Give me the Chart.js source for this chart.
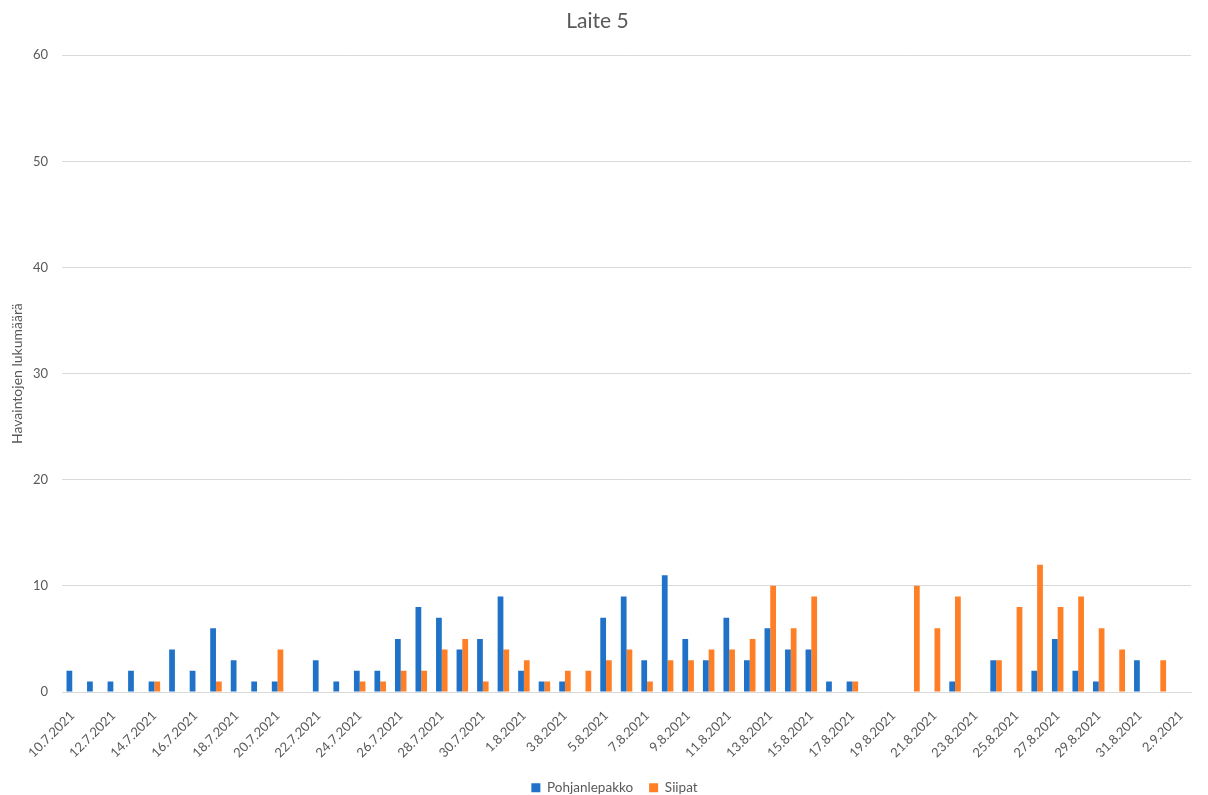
<!DOCTYPE html>
<html>
<head>
<meta charset="utf-8">
<script src="https://cdn.jsdelivr.net/npm/chart.js@4/dist/chart.umd.min.js"></script>
<style>
  html, body { margin: 0; padding: 0; background: #ffffff; }
  #wrap { width: 1208px; height: 795px; position: relative; }
</style>
</head>
<body>
<div id="wrap"><canvas id="c"></canvas></div>
<script>
const categories = [
  "10.7.2021","11.7.2021","12.7.2021","13.7.2021","14.7.2021","15.7.2021","16.7.2021","17.7.2021","18.7.2021","19.7.2021",
  "20.7.2021","21.7.2021","22.7.2021","23.7.2021","24.7.2021","25.7.2021","26.7.2021","27.7.2021","28.7.2021","29.7.2021",
  "30.7.2021","31.7.2021","1.8.2021","2.8.2021","3.8.2021","4.8.2021","5.8.2021","6.8.2021","7.8.2021","8.8.2021",
  "9.8.2021","10.8.2021","11.8.2021","12.8.2021","13.8.2021","14.8.2021","15.8.2021","16.8.2021","17.8.2021","18.8.2021",
  "19.8.2021","20.8.2021","21.8.2021","22.8.2021","23.8.2021","24.8.2021","25.8.2021","26.8.2021","27.8.2021","28.8.2021",
  "29.8.2021","30.8.2021","31.8.2021","1.9.2021","2.9.2021"
];
const pohjanlepakko = [
  2,1,1,2,1,4,2,6,3,1,
  1,0,3,1,2,2,5,8,7,4,
  5,9,2,1,1,0,7,9,3,11,
  5,3,7,3,6,4,4,1,1,0,
  0,0,0,1,0,3,0,2,5,2,
  1,0,3,0,0
];
const siipat = [
  0,0,0,0,1,0,0,1,0,0,
  4,0,0,0,1,1,2,2,4,5,
  1,4,3,1,2,2,3,4,1,3,
  3,4,4,5,10,6,9,0,1,0,
  0,10,6,9,0,3,8,12,8,9,
  6,4,0,3,0
];
const yTicks = [0,10,20,30,40,50,60];

const textColor = '#595959';
const fontFamily = 'Lato, "Liberation Sans", sans-serif';

const legendShift = {
  id: 'legendShift',
  afterLayout(chart) {
    const lg = chart.legend;
    if (lg) { lg.left += 17; lg.right += 17; }
  }
};

new Chart(document.getElementById('c'), {
  type: 'bar',
  data: {
    labels: categories,
    datasets: [
      { label: 'Pohjanlepakko', data: pohjanlepakko, backgroundColor: '#1f72c8', borderWidth: 0,
        categoryPercentage: 0.56, barPercentage: 1.0 },
      { label: 'Siipat', data: siipat, backgroundColor: '#ff7f27', borderWidth: 0,
        categoryPercentage: 0.56, barPercentage: 1.0 }
    ]
  },
  plugins: [legendShift],
  options: {
    responsive: true,
    maintainAspectRatio: false,
    animation: false,
    layout: { padding: { left: 0, right: 13, top: 0, bottom: 0 } },
    plugins: {
      title: {
        display: true, text: 'Laite 5', color: textColor,
        font: { family: fontFamily, size: 21, weight: 'normal' },
        padding: { top: 9, bottom: 21 }
      },
      legend: {
        position: 'bottom',
        maxHeight: 30,
        labels: {
          color: textColor, boxWidth: 9, boxHeight: 9, padding: 16,
          font: { family: fontFamily, size: 13.5 }
        }
      },
      tooltip: { enabled: false }
    },
    scales: {
      x: {
        grid: { display: false, drawTicks: false },
        border: { display: true, color: '#d9d9d9', width: 1 },
        afterFit: (axis) => { axis.height = 73; },
        ticks: {
          autoSkip: false, maxRotation: 45, minRotation: 45,
          color: textColor, padding: 16,
          font: { family: fontFamily, size: 13 },
          callback: function (val, idx) { return idx % 2 === 0 ? categories[idx] : ''; }
        }
      },
      y: {
        min: yTicks[0], max: yTicks[yTicks.length - 1],
        afterBuildTicks: (axis) => { axis.ticks = yTicks.map(v => ({ value: v })); },
        afterFit: (axis) => { axis.width = 62; },
        grid: { color: '#d9d9d9', drawTicks: false },
        border: { display: false },
        ticks: { color: textColor, padding: 14, font: { family: fontFamily, size: 13 } },
        title: {
          display: true, text: 'Havaintojen lukumäärä', color: textColor,
          font: { family: fontFamily, size: 14 }, padding: { top: 9, bottom: 0 }
        }
      }
    }
  }
});
</script>
</body>
</html>
